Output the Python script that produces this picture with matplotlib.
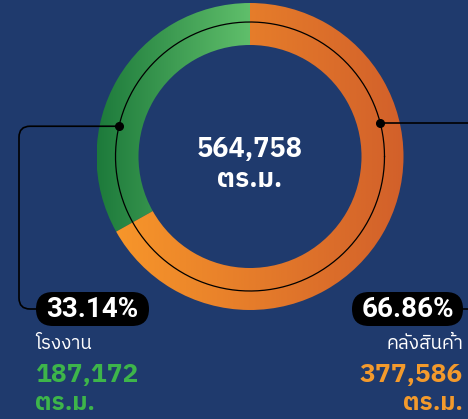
import matplotlib
matplotlib.use("Agg")
import matplotlib.pyplot as plt
import numpy as np
from matplotlib import font_manager, ft2font
from matplotlib.patches import Wedge, FancyBboxPatch, PathPatch
from matplotlib.path import Path
from matplotlib.colors import LinearSegmentedColormap

# data
labels = ['โรงงาน', 'คลังสินค้า']
values = [187172, 377586]
unit = 'ตร.ม.'
total = sum(values)
pcts = [v / total * 100 for v in values]

# find a font that has Thai glyphs
thai_font = None
for f in font_manager.fontManager.ttflist:
    try:
        cmap_ = ft2font.FT2Font(f.fname).get_charmap()
    except Exception:
        continue
    if 0x0E23 in cmap_ and 0x0E21 in cmap_:
        thai_font = f.name
        if 'Thai' in f.name:
            break
fam = [thai_font, 'DejaVu Sans'] if thai_font else ['DejaVu Sans']

W, H = 468, 419
bg = '#1f3a6d'
green = '#3db54a'
orange = '#f39a2c'

fig = plt.figure(figsize=(W / 100, H / 100), dpi=100, facecolor=bg)
ax = fig.add_axes([0, 0, 1, 1])
ax.set_xlim(0, W)
ax.set_ylim(0, H)
ax.axis('off')
ax.set_facecolor(bg)

def Y(y):
    return H - y

cx, cy = 250, Y(156.5)
r_out, r_in = 153.5, 111.5

# donut with horizontal gradients
start = 90
grads = [('#1d7a3b', '#60bf6b'), ('#f7962a', '#d2602a')]
for i, p in enumerate(pcts):
    sweep = p * 3.6
    if i == 0:
        t1, t2 = start, start + sweep
    else:
        t1, t2 = start - sweep, start
    w = Wedge((cx, cy), r_out, t1, t2, width=r_out - r_in, facecolor='none', edgecolor='none')
    ax.add_patch(w)
    angs = np.radians(np.linspace(t1, t2, 200))
    xs = np.concatenate([cx + r_out * np.cos(angs), cx + r_in * np.cos(angs)])
    x0, x1 = xs.min(), xs.max()
    cm = LinearSegmentedColormap.from_list('g%d' % i, grads[i])
    grad = np.linspace(0, 1, 256).reshape(1, -1)
    im = ax.imshow(grad, cmap=cm, extent=[x0, x1, cy - r_out, cy + r_out],
                   aspect='auto', interpolation='bilinear', zorder=2)
    im.set_clip_path(w)

ax.set_xlim(0, W)
ax.set_ylim(0, H)

# thin black circle
th = np.linspace(0, 2 * np.pi, 400)
r_mid = 134.5
ax.plot(cx + r_mid * np.cos(th), cy + r_mid * np.sin(th), color='black', lw=0.9, zorder=3)

# callout dots
a_l, a_r = np.radians(167), np.radians(14.5)
lx, ly = cx + r_mid * np.cos(a_l), cy + r_mid * np.sin(a_l)
rx, ry = cx + r_mid * np.cos(a_r), cy + r_mid * np.sin(a_r)
ax.plot([lx, rx], [ly, ry], 'o', color='black', ms=5.5, zorder=4)

# left connector with rounded corners
rc = 11
verts = [(lx, ly), (19 + rc, ly), (19, ly), (19, ly - rc),
         (19, Y(309) + rc), (19, Y(309)), (19 + rc, Y(309)), (40, Y(309))]
codes = [Path.MOVETO, Path.LINETO, Path.CURVE3, Path.CURVE3,
         Path.LINETO, Path.CURVE3, Path.CURVE3, Path.LINETO]
ax.add_patch(PathPatch(Path(verts, codes), facecolor='none', edgecolor='black', lw=1.2, zorder=3))
ax.plot([rx, W], [ry, ry], color='black', lw=1.2, zorder=3)
ax.plot([455, W], [Y(309), Y(309)], color='black', lw=1.2, zorder=3)

# percent pills
pills = [(36, 149), (352, 463)]
for (x0, x1), p in zip(pills, pcts):
    bh = 34
    box = FancyBboxPatch((x0, Y(326)), x1 - x0, bh,
                         boxstyle='round,pad=0,rounding_size=17',
                         facecolor='black', edgecolor='none', zorder=5)
    ax.add_patch(box)
    ax.text((x0 + x1) / 2, Y(309.5), '%.2f%%' % p, color='white', fontsize=20,
            family=['Roboto', 'DejaVu Sans'], weight='semibold',
            ha='center', va='center', zorder=6)

# center total
ax.text(cx, Y(157), '{:,}'.format(total), color='white', fontsize=19.5,
        family=fam, weight='bold', ha='center', va='baseline', zorder=6)
ax.text(cx, Y(187), unit, color='white', fontsize=19,
        family=fam, weight='bold', ha='center', va='baseline', zorder=6)

# labels
cols = [green, orange]
anchors = [(35, 'left'), (463, 'right')]
for (xa, ha), lab, v, c in zip(anchors, labels, values, cols):
    ax.text(xa, Y(349), lab, color='white', fontsize=13.5, family=fam,
            ha=ha, va='baseline', zorder=6)
    ax.text(xa, Y(382), '{:,}'.format(v), color=c, fontsize=19,
            family=fam, weight='bold', ha=ha, va='baseline', zorder=6)
    ax.text(xa, Y(410), unit, color=c, fontsize=17.5, family=fam,
            weight='bold', ha=ha, va='baseline', zorder=6)

fig.savefig('out.png', dpi=100, facecolor=bg)
